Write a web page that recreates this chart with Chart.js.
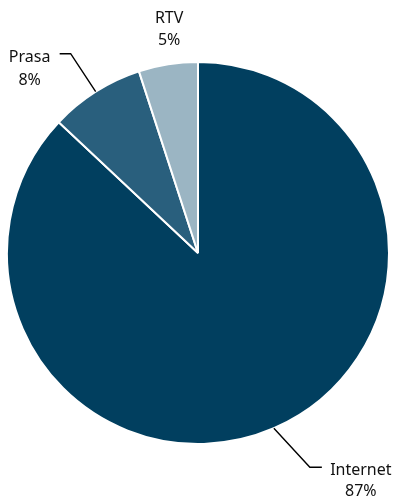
<!DOCTYPE html>
<html>
<head>
<meta charset="utf-8">
<script src="https://cdn.jsdelivr.net/npm/chart.js@4/dist/chart.umd.min.js"></script>
<style>
  html, body { margin: 0; padding: 0; background: #fff; }
  #wrap { width: 394px; height: 500px; }
</style>
</head>
<body>
<div id="wrap"><canvas id="myChart" width="394" height="500"></canvas></div>
<script>
const categories = ['Internet', 'Prasa', 'RTV'];
const shares = [87, 8, 5];
const colors = ['#013f5f', '#295f7d', '#9bb5c3'];

// where each label sits, relative to the point on the rim at the slice middle
const labelPlacement = [
    { leader: [[36, 39], [48, 39]], text: [87, 42], lineH: 21 },
    { leader: [[-25, -38], [-36, -38]], text: [-66, -34], lineH: 23 },
    { leader: null, text: [1, -46], lineH: 22 }
];

const pieLabels = {
    id: 'pieLabels',
    afterDatasetsDraw(chart) {
        const ctx = chart.ctx;
        const meta = chart.getDatasetMeta(0);
        ctx.save();
        meta.data.forEach(function (arc, i) {
            const p = arc.getProps(['x', 'y', 'startAngle', 'endAngle', 'outerRadius'], true);
            const mid = (p.startAngle + p.endAngle) / 2;
            const ex = p.x + Math.cos(mid) * p.outerRadius;
            const ey = p.y + Math.sin(mid) * p.outerRadius;
            const pl = labelPlacement[i];
            if (pl.leader) {
                ctx.beginPath();
                ctx.moveTo(ex, ey);
                pl.leader.forEach(function (pt) { ctx.lineTo(ex + pt[0], ey + pt[1]); });
                ctx.strokeStyle = '#000';
                ctx.lineWidth = 1.4;
                ctx.stroke();
            }
            ctx.fillStyle = '#111';
            ctx.font = '16px "Noto Sans", sans-serif';
            ctx.textAlign = 'center';
            ctx.textBaseline = 'middle';
            ctx.fillText(categories[i], ex + pl.text[0], ey + pl.text[1]);
            ctx.fillText(shares[i] + '%', ex + pl.text[0], ey + pl.text[1] + pl.lineH);
        });
        ctx.restore();
    }
};

const myChart = new Chart(document.getElementById('myChart'), {
    type: 'pie',
    data: {
        labels: categories,
        datasets: [{
            data: shares,
            backgroundColor: colors,
            borderColor: '#ffffff',
            borderWidth: 2
        }]
    },
    options: {
        responsive: false,
        animation: false,
        radius: 191,
        layout: { padding: { left: 2, right: 0, top: 60, bottom: 54 } },
        plugins: {
            legend: { display: false },
            tooltip: { enabled: false }
        }
    },
    plugins: [pieLabels]
});
</script>
</body>
</html>
